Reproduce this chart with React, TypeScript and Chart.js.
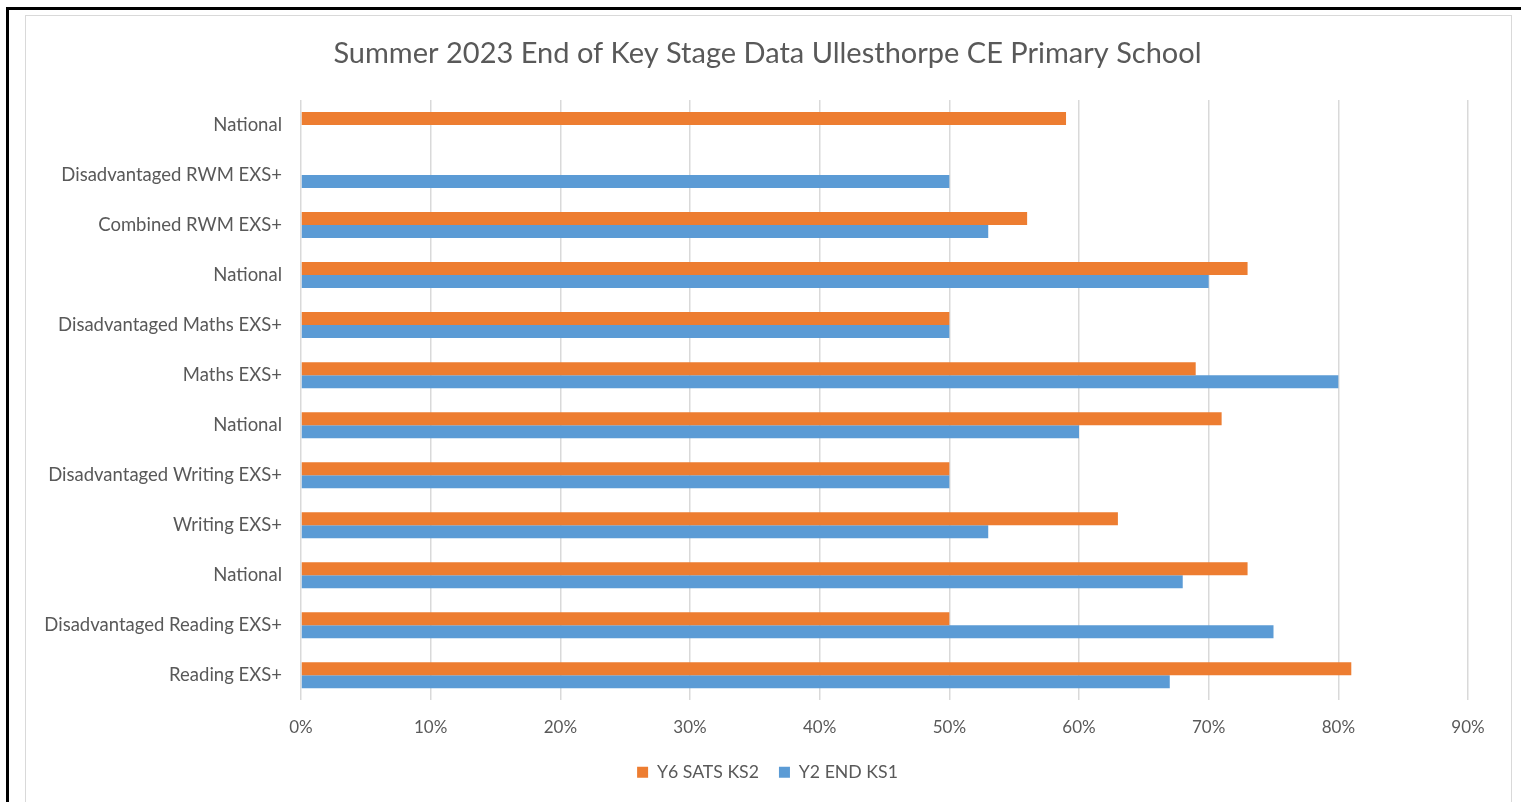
import React, { useEffect, useRef } from "react";
import { Chart, registerables } from "chart.js";

Chart.register(...registerables);

const TITLE = "Summer 2023 End of Key Stage Data Ullesthorpe CE Primary School";

const categories = [
  "National",
  "Disadvantaged RWM EXS+",
  "Combined RWM EXS+",
  "National",
  "Disadvantaged Maths EXS+",
  "Maths EXS+",
  "National",
  "Disadvantaged Writing EXS+",
  "Writing EXS+",
  "National",
  "Disadvantaged Reading EXS+",
  "Reading EXS+",
];

const y6SatsKs2 = [0.59, null, 0.56, 0.73, 0.5, 0.69, 0.71, 0.5, 0.63, 0.73, 0.5, 0.81];
const y2EndKs1 = [null, 0.5, 0.53, 0.7, 0.5, 0.8, 0.6, 0.5, 0.53, 0.68, 0.75, 0.67];

const xTicks = [0, 0.1, 0.2, 0.3, 0.4, 0.5, 0.6, 0.7, 0.8, 0.9];

const FONT = "Lato, 'Open Sans', sans-serif";
const TEXT = "#595959";

export default function App() {
  const ref = useRef<HTMLCanvasElement | null>(null);

  useEffect(() => {
    if (!ref.current) return;
    const chart = new Chart(ref.current, {
      type: "bar",
      data: {
        labels: categories,
        datasets: [
          {
            label: "Y6 SATS KS2",
            data: y6SatsKs2 as any,
            backgroundColor: "#ED7D31",
            categoryPercentage: 0.52,
            barPercentage: 1,
          },
          {
            label: "Y2 END KS1",
            data: y2EndKs1 as any,
            backgroundColor: "#5B9BD5",
            categoryPercentage: 0.52,
            barPercentage: 1,
          },
        ],
      },
      options: {
        indexAxis: "y",
        animation: false,
        responsive: false,
        maintainAspectRatio: false,
        layout: { padding: { left: 0, right: 1, top: 0, bottom: 11 } },
        scales: {
          x: {
            min: 0,
            max: 0.9,
            afterBuildTicks: (scale: any) => {
              scale.ticks = xTicks.map((v) => ({ value: v }));
            },
            afterFit: (scale: any) => {
              scale.height = 43;
            },
            grid: { color: "#d9d9d9", lineWidth: 1.5, drawTicks: false },
            border: { display: false },
            ticks: {
              color: TEXT,
              font: { family: FONT, size: 17 },
              padding: 17,
              callback: (v: any) => Math.round(Number(v) * 100) + "%",
            },
          },
          y: {
            afterFit: (scale: any) => {
              scale.width = 274;
            },
            grid: { display: false, drawTicks: false },
            border: { display: false },
            ticks: {
              color: TEXT,
              font: { family: FONT, size: 18.5 },
              padding: 19,
            },
          },
          yRight: {
            axis: "y",
            type: "category",
            position: "right",
            labels: categories,
            afterFit: (scale: any) => {
              scale.width = 40;
            },
            grid: { display: false, drawTicks: false },
            border: { display: false },
            ticks: { display: false },
          },
        } as any,
        plugins: {
          title: {
            display: true,
            text: TITLE,
            color: TEXT,
            font: { family: FONT, size: 29, weight: "normal" },
            padding: { top: 19.6, bottom: 28.6 },
          },
          legend: {
            position: "bottom",
            labels: {
              color: TEXT,
              font: { family: FONT, size: 17.7 },
              boxWidth: 11,
              boxHeight: 11,
              padding: 20,
            },
          },
          tooltip: { enabled: false },
        },
      },
    });
    return () => chart.destroy();
  }, []);

  return (
    <div style={{ position: "absolute", left: 0, top: 0, width: 1521, height: 802, background: "#fff", overflow: "hidden" }}>
      <div style={{ position: "absolute", left: 6, top: 7, right: -10, bottom: -10, border: "3px solid #000" }} />
      <div style={{ position: "absolute", left: 25, top: 15, width: 1485, bottom: -10, border: "1.5px solid #d9d9d9" }} />
      <canvas
        ref={ref}
        width={1482}
        height={785}
        style={{ position: "absolute", left: 27, top: 17, width: 1482, height: 785 }}
      />
    </div>
  );
}
